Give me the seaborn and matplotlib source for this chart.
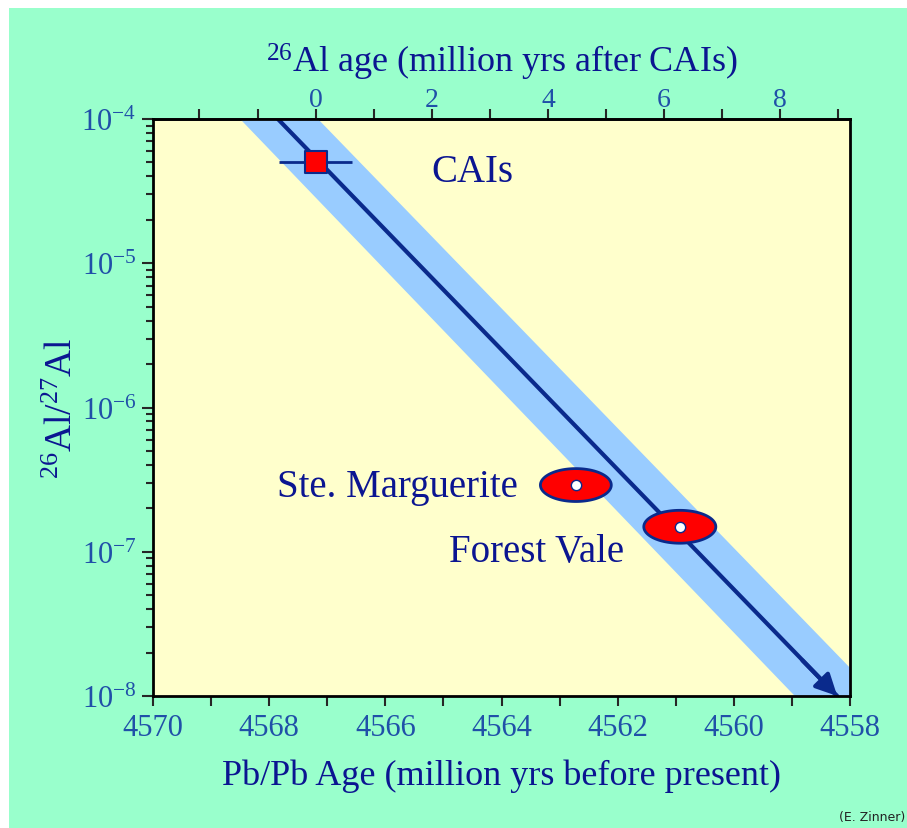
import numpy as np
import matplotlib
matplotlib.use("Agg")
import matplotlib.pyplot as plt
import seaborn as sns
from matplotlib.patches import Rectangle
from matplotlib.ticker import FixedLocator, LogLocator, NullFormatter

# ---------------- DATA ----------------
pbpb_ticks = [4570, 4568, 4566, 4564, 4562, 4560, 4558]
al_age_ticks = [0, 2, 4, 6, 8]
cai_pbpb = 4567.2  # zero point of the 26Al time scale

cai_age = [4567.2]
cai_ratio = [5.0e-5]
cai_age_err = [0.63]

meteorites = ["Ste. Marguerite", "Forest Vale"]
met_age = [4562.72, 4560.93]
met_ratio = [2.9e-7, 1.49e-7]
met_age_err = [0.61, 0.62]
met_ratio_err_dex = [0.114, 0.114]

decay_age = [4567.85, 4558.22]
decay_ratio = [1e-4, 1e-8]
band_age = [4568.50, 4567.16, 4557.53, 4558.95]
band_ratio = [1e-4, 1e-4, 1e-8, 1e-8]

# colours
MINT = "#99ffcc"
PALE = "#ffffcc"
BAND = "#99ccff"
NAVY = "#0a2a8c"
TXT = "#0b1591"
TICK = "#2050a8"
RED = "#ff0000"

sns.set_style("ticks")
plt.rcParams["font.family"] = ["Liberation Serif", "DejaVu Serif"]
plt.rcParams["mathtext.fontset"] = "custom"
plt.rcParams["mathtext.rm"] = "Liberation Serif"
plt.rcParams["mathtext.it"] = "Liberation Serif:italic"

fig = plt.figure(figsize=(9.07, 8.29), dpi=100)
fig.patch.set_facecolor("white")
fig.patches.append(Rectangle((9 / 907, 0), 1, 1 - 9 / 829, transform=fig.transFigure,
                             facecolor=MINT, edgecolor="none", zorder=-10))

ax = fig.add_axes([153 / 907, 1 - 697 / 829, 697 / 907, 577 / 829])
ax.set_facecolor(PALE)

# band + decay line
ax.fill(band_age, band_ratio, color=BAND, lw=0, zorder=1)
sns.lineplot(x=decay_age, y=decay_ratio, ax=ax, color=NAVY, lw=3, zorder=2,
             sort=False, estimator=None)
ax.annotate("", xy=(decay_age[1], decay_ratio[1]),
            xytext=(decay_age[1] + 0.6, decay_ratio[1] * 10 ** (0.6 / 2.43)),
            arrowprops=dict(arrowstyle="-|>", color=NAVY, lw=3, mutation_scale=32,
                            shrinkA=0, shrinkB=0), zorder=3)

# CAIs
ax.errorbar(cai_age, cai_ratio, xerr=cai_age_err, fmt="none", ecolor=NAVY,
            elinewidth=2, capsize=0, zorder=4)
sns.scatterplot(x=cai_age, y=cai_ratio, ax=ax, marker="s", s=270, color=RED,
                edgecolor=NAVY, linewidth=1.5, zorder=5)

# meteorite error ellipses
theta = np.linspace(0, 2 * np.pi, 120)
for a, r, ea, er in zip(met_age, met_ratio, met_age_err, met_ratio_err_dex):
    ex = a + ea * np.cos(theta)
    ey = 10 ** (np.log10(r) + er * np.sin(theta))
    ax.fill(ex, ey, facecolor=RED, edgecolor=NAVY, lw=2, zorder=5)
sns.scatterplot(x=met_age, y=met_ratio, ax=ax, marker="o", s=55, color="white",
                edgecolor=NAVY, linewidth=1, zorder=6)

# labels in plot
ax.text(4565.20, 4.3e-5, "CAIs", fontsize=28, color=TXT, va="center", ha="left")
ax.text(4563.72, 2.85e-7, meteorites[0], fontsize=28, color=TXT, va="center", ha="right")
ax.text(4564.90, 1.0e-7, meteorites[1], fontsize=28, color=TXT, va="center", ha="left")

# axes
ax.set_yscale("log")
ax.set_xlim(4570, 4558)
ax.set_ylim(1e-8, 1e-4)
ax.xaxis.set_major_locator(FixedLocator(pbpb_ticks))
ax.xaxis.set_minor_locator(FixedLocator(np.arange(4558, 4571, 1)))
ax.set_xticklabels([str(t) for t in pbpb_ticks])
ax.yaxis.set_major_locator(LogLocator(base=10))
ax.yaxis.set_minor_locator(LogLocator(base=10, subs=np.arange(2, 10)))
ax.yaxis.set_minor_formatter(NullFormatter())
ax.set_yticks([1e-8, 1e-7, 1e-6, 1e-5, 1e-4])
ax.set_yticklabels([r"$\mathregular{10^{-%d}}$" % k for k in [8, 7, 6, 5, 4]])

for s in ax.spines.values():
    s.set_color("black")
    s.set_linewidth(2)
ax.tick_params(axis="x", which="major", direction="out", length=7, width=1.5,
               labelsize=22, labelcolor=TICK, pad=5)
ax.tick_params(axis="x", which="minor", direction="out", length=7, width=1.5)
ax.tick_params(axis="y", which="major", direction="out", length=8, width=1.5,
               labelsize=22, labelcolor=TICK, pad=4)
ax.tick_params(axis="y", which="minor", direction="out", length=5, width=1.5)

ax.set_xlabel("Pb/Pb Age (million yrs before present)", fontsize=26, color=TXT, labelpad=12)
ax.set_ylabel(r"$\mathregular{^{26}Al/^{27}Al}$", fontsize=27, color=TXT)
ax.yaxis.set_label_coords(-0.105, 0.5)

top = ax.secondary_xaxis("top", functions=(lambda t: cai_pbpb - t, lambda a: cai_pbpb - a))
top.xaxis.set_major_locator(FixedLocator(al_age_ticks))
top.xaxis.set_minor_locator(FixedLocator(np.arange(-2, 10, 1)))
top.tick_params(axis="x", which="major", direction="out", length=7, width=1.5,
                labelsize=20, labelcolor=TICK, pad=-2)
top.tick_params(axis="x", which="minor", direction="out", length=7, width=1.5)
top.spines["top"].set_linewidth(2)
top.set_xlabel(r"$\mathregular{^{26}Al\ age\ (million\ yrs\ after\ CAIs)}$",
               fontsize=26, color=TXT, labelpad=11)

fig.text(905 / 907, 1 - 818 / 829, "(E. Zinner)", fontsize=9, family="DejaVu Sans",
         color="#222222", ha="right", va="center")

fig.savefig("out.png", dpi=100)
